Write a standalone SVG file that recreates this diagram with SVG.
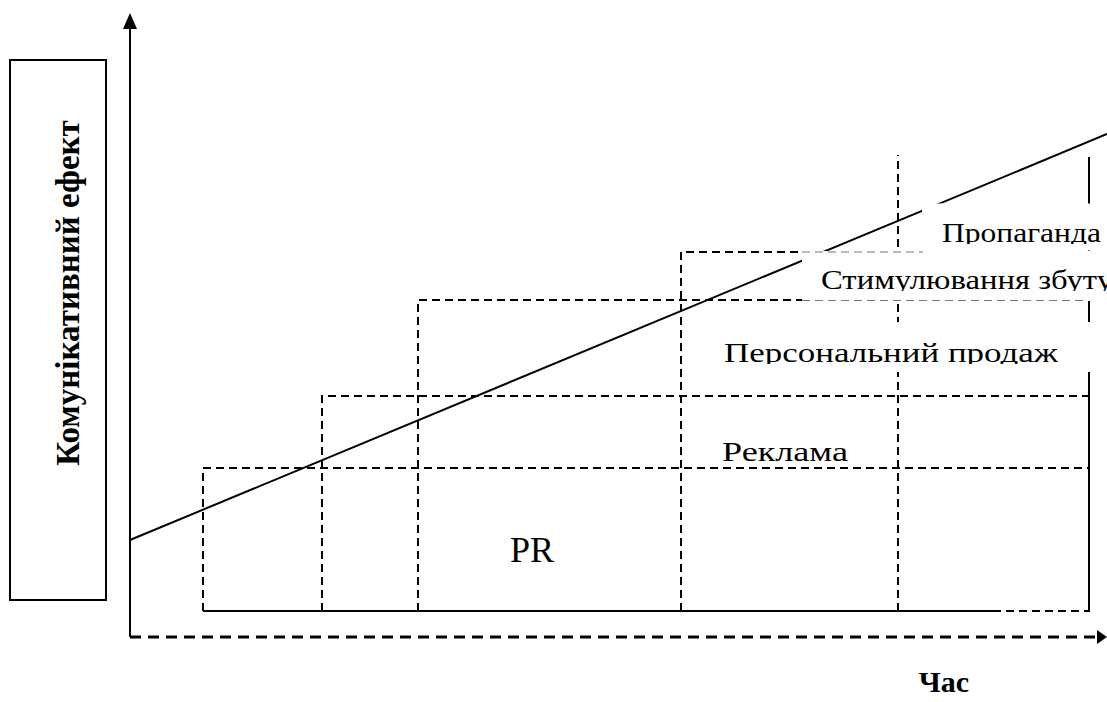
<svg xmlns="http://www.w3.org/2000/svg" width="1107" height="702" viewBox="0 0 1107 702">
  <style>
    .solid { stroke: #000; stroke-width: 2; fill: none; }
    .dash { stroke: #000; stroke-width: 2; stroke-dasharray: 8 5; fill: none; }
    .thin { stroke: #777; stroke-width: 1; stroke-dasharray: 8 5; fill: none; }
    .axisdash { stroke: #000; stroke-width: 3; stroke-dasharray: 11 7; fill: none; }
    .lbl { font-family: "Liberation Serif", "Times New Roman", serif; font-size: 27px; fill: #000; }
    .bold { font-family: "Liberation Serif", "Times New Roman", serif; font-weight: bold; font-size: 30px; fill: #000; }
    .box { fill: #fff; stroke: none; }
  </style>
  <defs>
    <clipPath id="cProp"><rect x="900" y="200" width="207" height="44"/></clipPath>
    <clipPath id="cStim"><rect x="800" y="255" width="307" height="36"/></clipPath>
    <clipPath id="cPers"><rect x="700" y="325" width="407" height="39"/></clipPath>
  </defs>
  <rect x="0" y="0" width="1107" height="702" fill="#fff"/>

  <g id="connectors">
    <line class="solid" x1="130" y1="637" x2="130" y2="28" stroke-width="2.5"/>
    <path d="M130,13 L137,29 L123,29 Z" fill="#000"/>
    <line class="axisdash" x1="130" y1="637" x2="1098" y2="637"/>
    <path d="M1107,637 L1097,630 L1097,644 Z" fill="#000"/>
    <line class="solid" x1="203" y1="611" x2="993" y2="611"/>
    <line class="dash" x1="993" y1="611" x2="1089" y2="611"/>
    <line class="solid" x1="1089" y1="157" x2="1089" y2="612"/>
  </g>

  <g id="steps">
    <g id="pr-step"><path class="dash" d="M203,611 V468 H1089"/></g>
    <g id="reklama-step"><path class="dash" d="M322,611 V396 H1089"/></g>
    <g id="personal-step"><path class="dash" d="M418,611 V300 H1089"/></g>
    <g id="stim-step"><path class="dash" d="M681,611 V252 H923"/></g>
    <g id="prop-step"><path class="dash" d="M898,611 V155"/></g>
  </g>

  <g id="trend">
    <line class="solid" x1="130" y1="540" x2="1107" y2="134"/>
  </g>

  <g id="textboxes">
    <rect class="box" x="922" y="203.5" width="185" height="47"/>
    <rect class="box" x="802" y="251" width="305" height="50"/>
    <rect class="box" x="700" y="322" width="407" height="50"/>
    <line class="thin" x1="802" y1="252" x2="923" y2="252"/>
    <line class="thin" x1="802" y1="300.5" x2="1088" y2="300.5"/>
  </g>

  <g id="label-prop">
    <text class="lbl" x="942" y="242" textLength="159" lengthAdjust="spacingAndGlyphs" clip-path="url(#cProp)">Пропаганда</text>
  </g>
  <g id="label-stim">
    <text class="lbl" x="821" y="289" textLength="292" lengthAdjust="spacingAndGlyphs" clip-path="url(#cStim)">Стимулювання збуту</text>
  </g>
  <g id="label-pers">
    <text class="lbl" x="724" y="362" textLength="334" lengthAdjust="spacingAndGlyphs" clip-path="url(#cPers)">Персональний продаж</text>
  </g>
  <g id="label-rek">
    <text class="lbl" x="722" y="461" textLength="126" lengthAdjust="spacingAndGlyphs">Реклама</text>
  </g>
  <g id="label-pr">
    <text class="lbl" x="510" y="562" style="font-size:36px">PR</text>
  </g>

  <g id="y-label">
    <rect x="10" y="60" width="96" height="540" fill="#fff" stroke="#000" stroke-width="2"/>
    <text class="bold" text-anchor="middle" style="font-size:33px" transform="translate(79,293) rotate(-90)">Комунікативний ефект</text>
  </g>
  <g id="x-label">
    <text class="bold" x="944" y="692" text-anchor="middle">Час</text>
  </g>
</svg>
